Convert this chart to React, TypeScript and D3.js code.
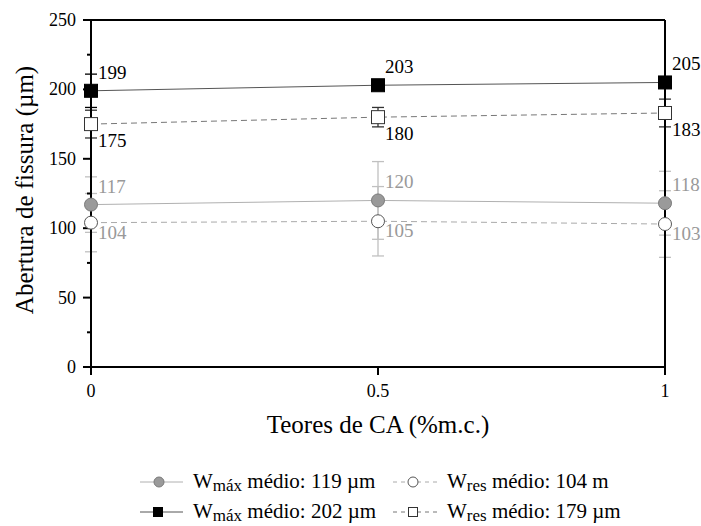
import React from "react";
import * as d3 from "d3";

const xValues = [0, 0.5, 1];
const xTickLabels = ["0", "0.5", "1"];
const yTicks = [0, 50, 100, 150, 200, 250];
const yMinorTicks = [25, 75, 125, 175, 225];

const wmaxBlack = [199, 203, 205];
const wmaxBlackErr = [12, 3, 3];
const wresSquare = [175, 180, 183];
const wresSquareErr = [10, 7, 10];
const wmaxGrey = [117, 120, 118];
const wmaxGreyErr = [20, 28, 23];
const wresCircle = [104, 105, 103];
const wresCircleErr = [21, 25, 24];

const legendLabels = [
  { main: "W", sub: "máx", rest: " médio: 119 µm" },
  { main: "W", sub: "res", rest: " médio: 104 m" },
  { main: "W", sub: "máx", rest: " médio: 202 µm" },
  { main: "W", sub: "res", rest: " médio: 179 µm" },
];

const FONT = '"Liberation Serif", "DejaVu Serif", "Noto Serif", Tinos, "Nimbus Roman", "Nimbus Roman No9 L", FreeSerif, Times, "Times New Roman", serif';

type Series = {
  values: number[];
  err: number[];
  lineColor: string;
  dash?: string;
  errColor: string;
  marker: "square" | "circle";
  fill: string;
  stroke: string;
  labelColor: string;
  labelOffset: number;
};

export default function App() {
  const x = d3.scaleLinear().domain([0, 1]).range([91, 665]);
  const y = d3.scaleLinear().domain([0, 250]).range([367, 20]);

  const series: Series[] = [
    { values: wmaxGrey, err: wmaxGreyErr, lineColor: "#b0b0b0", errColor: "#c0c0c0", marker: "circle", fill: "#9a9a9a", stroke: "#7a7a7a", labelColor: "#999", labelOffset: -12 },
    { values: wresCircle, err: wresCircleErr, lineColor: "#aaaaaa", dash: "6,4", errColor: "#c0c0c0", marker: "circle", fill: "#fff", stroke: "#555", labelColor: "#999", labelOffset: 16 },
    { values: wresSquare, err: wresSquareErr, lineColor: "#777", dash: "6,4", errColor: "#333", marker: "square", fill: "#fff", stroke: "#333", labelColor: "#000", labelOffset: 23 },
    { values: wmaxBlack, err: wmaxBlackErr, lineColor: "#555", errColor: "#000", marker: "square", fill: "#000", stroke: "#000", labelColor: "#000", labelOffset: -12 },
  ];

  const line = d3
    .line<number>()
    .x((_, i) => x(xValues[i]))
    .y((d) => y(d));

  const drawMarker = (s: Series, cx: number, cy: number, size: number, key: string) =>
    s.marker === "square" ? (
      <rect key={key} x={cx - size / 2} y={cy - size / 2} width={size} height={size} fill={s.fill} stroke={s.stroke} strokeWidth={1} />
    ) : (
      <circle key={key} cx={cx} cy={cy} r={size / 2} fill={s.fill} stroke={s.stroke} strokeWidth={1} />
    );

  const legendItems = [
    { s: series[0], lx: 140, ly: 482, mx: 159, len: 43, tx: 193 },
    { s: series[1], lx: 393, ly: 482, mx: 413, len: 47, tx: 447 },
    { s: series[3], lx: 140, ly: 512, mx: 158, len: 43, tx: 193 },
    { s: series[2], lx: 393, ly: 512, mx: 413, len: 47, tx: 447 },
  ];

  return (
    <svg width={701} height={526} fontFamily={FONT} style={{ position: "absolute", left: 0, top: 0, background: "#fff", fontFamily: FONT }}>
      <rect x={0} y={0} width={701} height={526} fill="#fff" />
      {/* lines */}
      {series.map((s, si) => (
        <path key={"l" + si} d={line(s.values) || ""} fill="none" stroke={s.lineColor} strokeWidth={1} strokeDasharray={s.dash} />
      ))}
      {/* error bars */}
      {series.map((s, si) =>
        s.values.map((v, i) => {
          const cx = x(xValues[i]);
          const y1 = y(v + s.err[i]);
          const y2 = y(v - s.err[i]);
          return (
            <g key={"e" + si + "-" + i} stroke={s.errColor} strokeWidth={1.3}>
              <line x1={cx} x2={cx} y1={y1} y2={y2} />
              <line x1={cx - 6} x2={cx + 6} y1={y1} y2={y1} />
              <line x1={cx - 6} x2={cx + 6} y1={y2} y2={y2} />
            </g>
          );
        })
      )}
      {/* axes frame */}
      <g stroke="#000" strokeWidth={2} fill="none">
        <line x1={x(0)} x2={x(1)} y1={y(0)} y2={y(0)} />
        <line x1={x(0)} x2={x(1)} y1={y(250)} y2={y(250)} />
        <line x1={x(0)} x2={x(0)} y1={y(0)} y2={y(250)} />
        <line x1={x(1)} x2={x(1)} y1={y(0)} y2={y(250)} />
        {yTicks.map((t) => (
          <line key={"yt" + t} x1={x(0) - 8} x2={x(0)} y1={y(t)} y2={y(t)} />
        ))}
        {yMinorTicks.map((t) => (
          <line key={"ym" + t} x1={x(0) - 4} x2={x(0)} y1={y(t)} y2={y(t)} />
        ))}
        {xValues.map((t) => (
          <line key={"xt" + t} x1={x(t)} x2={x(t)} y1={y(0)} y2={y(0) + 8} />
        ))}
      </g>
      {/* tick labels */}
      {yTicks.map((t) => (
        <text key={"yl" + t} x={x(0) - 15} y={y(t) + 6} fontSize={18} textAnchor="end" fill="#000">
          {t}
        </text>
      ))}
      {xValues.map((t, i) => (
        <text key={"xl" + t} x={x(t)} y={397} fontSize={18} textAnchor="middle" fill="#000">
          {xTickLabels[i]}
        </text>
      ))}
      {/* axis titles */}
      <text x={378} y={433} fontSize={25} textAnchor="middle" fill="#000">
        Teores de CA (%m.c.)
      </text>
      <text transform={`translate(33, 190) rotate(-90)`} fontSize={25} textAnchor="middle" fill="#000">
        Abertura de fissura (µm)
      </text>
      {/* markers */}
      {series.map((s, si) =>
        s.values.map((v, i) => drawMarker(s, x(xValues[i]), y(v), 13, "m" + si + "-" + i))
      )}
      {/* value labels */}
      {series.map((s, si) =>
        s.values.map((v, i) => (
          <text key={"v" + si + "-" + i} x={x(xValues[i]) + 7} y={y(v) + s.labelOffset} fontSize={19} fill={s.labelColor}>
            {v}
          </text>
        ))
      )}
      {/* legend */}
      {legendItems.map((it, k) => (
        <g key={"lg" + k}>
          <line x1={it.lx} x2={it.lx + it.len} y1={it.ly} y2={it.ly} stroke={it.s.lineColor} strokeWidth={1} strokeDasharray={it.s.dash ? "4,4" : undefined} />
          {drawMarker(it.s, it.mx, it.ly, it.s.marker === "square" ? 9 : 10, "lm" + k)}
          <text x={it.tx} y={it.ly + 6} fontSize={21} fill="#000">
            {legendLabels[k].main}
            <tspan fontSize={17} dy={3}>{legendLabels[k].sub}</tspan>
            <tspan dy={-3}>{legendLabels[k].rest}</tspan>
          </text>
        </g>
      ))}
    </svg>
  );
}
